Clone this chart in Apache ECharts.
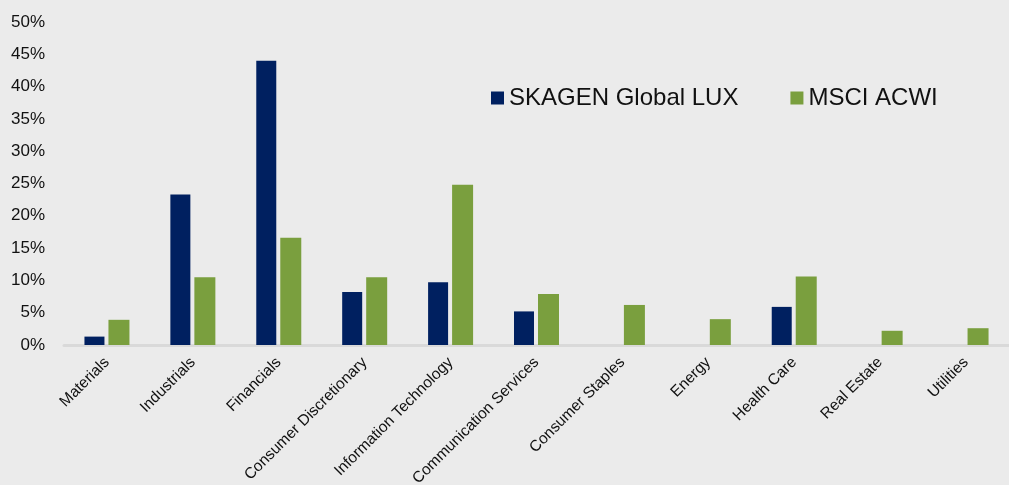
<!DOCTYPE html>
<html><head><meta charset="utf-8">
<script src="https://cdn.jsdelivr.net/npm/echarts@6/dist/echarts.min.js"></script>
<style>html,body{margin:0;padding:0;background:#ebebeb;}#c{width:1009px;height:485px;}</style>
</head><body><div id="c"></div>
<script>
const categories = ['Materials','Industrials','Financials','Consumer Discretionary','Information Technology','Communication Services','Consumer Staples','Energy','Health Care','Real Estate','Utilities'];
const skagen = [1.3, 23.3, 44.0, 8.2, 9.7, 5.2, null, null, 5.9, null, null];
const msci = [3.9, 10.5, 16.6, 10.5, 24.8, 7.9, 6.2, 4.0, 10.6, 2.2, 2.6];
const seriesNames = ['SKAGEN Global LUX', 'MSCI ACWI'];
const font = 'Liberation Sans, Arial, sans-serif';
const chart = echarts.init(document.getElementById('c'));
chart.setOption({
  backgroundColor: '#ebebeb',
  animation: false,
  grid: {left: 64, right: 0, top: 22, bottom: 140, containLabel: false, outerBoundsMode: 'none'},
  legend: {
    left: 491, top: 86, itemWidth: 13, itemHeight: 13, itemGap: 52, padding: 0,
    icon: 'rect',
    textStyle: {fontFamily: font, fontSize: 24, color: '#111'},
    data: seriesNames
  },
  xAxis: {
    type: 'category', data: categories,
    axisLine: {lineStyle: {color: '#d9d9d9', width: 3}},
    axisTick: {show: false},
    axisLabel: {rotate: 45, interval: 0, fontFamily: font, fontSize: 15.5, color: '#111', margin: 15}
  },
  yAxis: {
    type: 'value', min: 0, max: 50, interval: 5,
    splitLine: {show: false},
    axisLine: {show: false}, axisTick: {show: false},
    axisLabel: {formatter: '{value}%', fontFamily: font, fontSize: 17, color: '#111', margin: 19}
  },
  series: [
    {name: seriesNames[0], type: 'bar', data: skagen, barWidth: 20, barGap: '20%', itemStyle: {color: '#002060'}},
    {name: seriesNames[1], type: 'bar', data: msci, barWidth: 21, barGap: '20%', itemStyle: {color: '#7a9f3e'}}
  ]
});
</script></body></html>
